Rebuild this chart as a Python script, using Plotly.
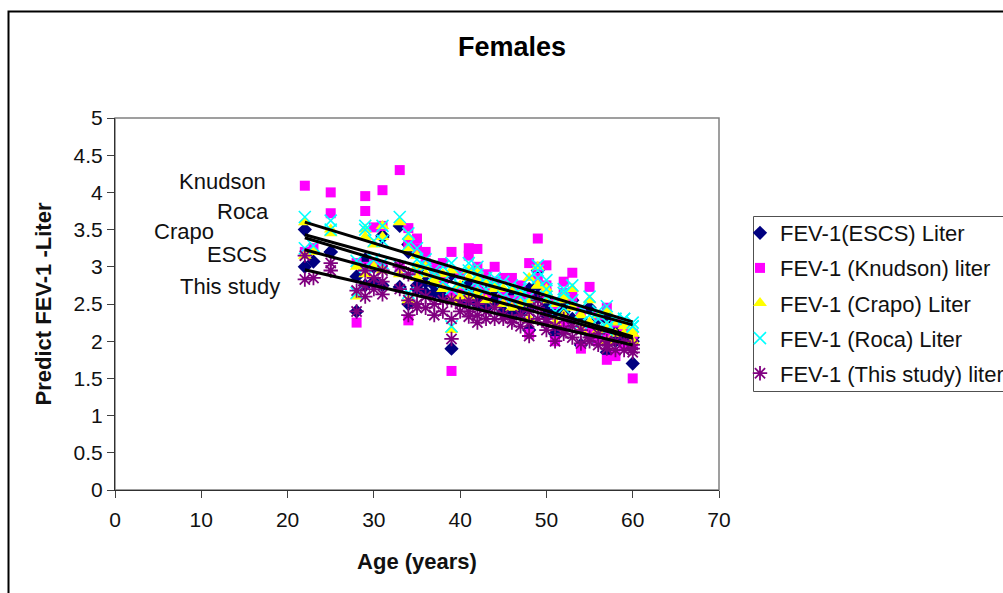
import plotly.graph_objects as go

age = [22,22,23,25,25,28,28,29,29,29,30,30,31,31,31,33,33,34,34,34,35,35,36,37,38,39,39,39,40,41,41,42,42,43,44,45,46,47,48,48,49,49,50,50,51,52,53,53,54,55,56,57,57,58,59,60,60,
       35,36,37,38,40,41,42,43,44,45,46,47,48,49,50,51,52,52,54,55,56,57,58,59,60]
escs = [3.5,3.0,3.07,3.2,3.2,2.87,2.4,3.1,3.05,2.75,3.0,2.8,3.42,3.4,2.75,3.55,2.73,3.3,3.2,2.5,2.95,2.75,2.8,2.65,2.6,2.9,1.9,2.6,2.7,2.8,2.75,2.6,2.5,2.65,2.55,2.6,2.6,2.4,2.7,2.15,2.95,2.6,2.45,2.35,2.1,2.4,2.55,2.3,1.95,2.45,2.0,2.3,1.85,2.0,2.0,1.7,2.05,
        2.7,2.65,2.75,2.8,2.55,2.55,2.7,2.45,2.7,2.4,2.35,2.55,2.45,2.75,2.6,2.4,2.2,2.55,2.3,2.1,2.3,2.05,2.2,2.15,2.0]
knudson = [4.09,3.2,3.25,4.0,3.72,3.05,2.25,3.95,3.75,3.0,3.53,3.05,4.03,3.55,3.0,4.3,3.0,3.52,3.3,2.28,3.38,3.25,3.2,2.9,2.8,3.2,1.6,2.65,2.9,3.25,3.15,3.24,2.75,2.9,3.0,2.85,2.85,2.55,3.05,2.1,3.38,3.0,3.02,2.65,2.0,2.8,2.92,2.6,1.9,2.73,2.0,2.45,1.75,1.8,1.95,1.5,2.1,
           2.95,3.05,3.0,3.05,2.7,2.6,3.0,2.65,2.8,2.6,2.55,2.75,2.6,2.85,2.75,2.5,2.2,2.65,2.4,2.15,2.35,2.1,2.25,2.2,1.95]
crapo = [3.6,3.15,3.2,3.5,3.45,3.0,2.6,3.5,3.4,2.9,3.3,3.0,3.55,3.4,2.95,3.6,2.9,3.4,3.25,2.55,3.15,3.0,3.0,2.8,2.7,2.95,2.15,2.55,2.75,2.95,2.85,2.95,2.65,2.8,2.75,2.7,2.7,2.5,2.85,2.3,3.0,2.75,2.7,2.55,2.25,2.6,2.7,2.45,2.15,2.55,2.15,2.4,2.0,2.1,2.1,2.0,2.15,
         2.85,2.9,2.85,2.9,2.6,2.6,2.85,2.55,2.7,2.5,2.45,2.65,2.55,2.75,2.65,2.5,2.35,2.55,2.35,2.25,2.35,2.2,2.25,2.2,2.1]
roca = [3.67,3.25,3.28,3.62,3.5,3.08,2.65,3.55,3.5,3.0,3.35,3.1,3.55,3.35,3.05,3.67,3.0,3.45,3.3,2.65,3.25,3.1,3.1,2.9,2.8,3.05,2.2,2.7,2.9,3.05,2.95,3.0,2.75,2.85,2.85,2.8,2.75,2.6,2.85,2.4,3.02,2.85,2.82,2.6,2.4,2.7,2.75,2.55,2.25,2.6,2.3,2.47,2.15,2.3,2.3,2.2,2.25,
        2.95,3.0,2.95,3.0,2.75,2.7,2.9,2.7,2.8,2.6,2.55,2.7,2.6,2.95,2.7,2.55,2.45,2.65,2.45,2.35,2.4,2.25,2.3,2.3,2.2]
this_study = [3.15,2.83,2.85,3.05,2.95,2.68,2.4,2.95,2.75,2.6,2.85,2.7,2.95,2.8,2.63,3.0,2.7,2.9,2.55,2.35,2.7,2.5,2.45,2.35,2.4,2.55,2.03,2.3,2.5,2.55,2.4,2.35,2.25,2.4,2.3,2.35,2.3,2.2,2.4,2.07,2.55,2.3,2.25,2.15,2.0,2.15,2.2,2.05,1.97,2.05,1.95,2.0,1.9,1.88,1.88,1.85,1.95,
              2.45,2.6,2.5,2.55,2.4,2.33,2.5,2.3,2.45,2.3,2.25,2.35,2.25,2.45,2.3,2.2,2.1,2.3,2.15,2.0,2.1,1.95,2.0,2.0,1.9]

trend_age = [22, 60]
trend_roca = [3.60, 2.26]
trend_knudson = [3.43, 2.22]
trend_crapo = [3.39, 2.06]
trend_escs = [3.23, 2.04]
trend_this = [2.96, 1.95]

label_names = ["Knudson", "Roca", "Crapo", "ESCS", "This study"]
label_x = [12.5, 14.8, 8.0, 14.1, 13.3]
label_y = [4.15, 3.75, 3.47, 3.17, 2.74]

FONT = "Liberation Sans"
series = [
    ("FEV-1(ESCS) Liter", escs, "diamond", "#000080", 11, None),
    ("FEV-1 (Knudson) liter", knudson, "square", "#ff00ff", 10, None),
    ("FEV-1 (Crapo) Liter", crapo, "triangle-up", "#ffff00", 12, None),
    ("FEV-1 (Roca) Liter", roca, "x-thin-open", "#00ffff", 12, 1.6),
    ("FEV-1 (This study) liter", this_study, "asterisk-open", "#800080", 12, 1.8),
]

fig = go.Figure()
for name, vals, sym, col, size, lw in series:
    marker = dict(symbol=sym, color=col, size=size)
    marker["line"] = dict(color=col, width=lw) if lw else dict(width=0)
    fig.add_trace(go.Scatter(x=age, y=vals, mode="markers", name=name,
                             legendgroup=name, marker=marker))
for t in [trend_roca, trend_knudson, trend_crapo, trend_escs, trend_this]:
    fig.add_trace(go.Scatter(x=trend_age, y=t, mode="lines", showlegend=False,
                             hoverinfo="skip", line=dict(color="black", width=3)))

for n, x, y in zip(label_names, label_x, label_y):
    fig.add_annotation(x=x, y=y, text=n, showarrow=False, xref="x", yref="y",
                       font=dict(family=FONT, size=22, color="#111111"))

L, T, R, B = 115, 118, 719, 490
W, H = 1003, 593
pw, ph = R - L, B - T
fig.add_shape(type="rect", xref="paper", yref="paper", x0=0, x1=1, y0=0, y1=1,
              line=dict(color="#808080", width=1.5), layer="below")
fig.add_shape(type="rect", xref="paper", yref="paper",
              x0=(8.5 - L) / pw, x1=(1040 - L) / pw,
              y0=(B - 640) / ph, y1=(B - 11.5) / ph,
              line=dict(color="black", width=2), layer="below")
# legend frame
fig.add_shape(type="rect", xref="paper", yref="paper",
              x0=(753.5 - L) / pw, x1=(1040 - L) / pw,
              y0=(B - 391.5) / ph, y1=(B - 216.5) / ph,
              line=dict(color="#505050", width=1), layer="below")

axis = dict(showgrid=False, zeroline=False, showline=True, linecolor="#303030", linewidth=1,
            ticks="outside", ticklen=7, tickcolor="#404040", tickwidth=1,
            tickfont=dict(family=FONT, size=21, color="#111111"))
fig.update_layout(
    width=W, height=H, margin=dict(l=L, r=W - R, t=T, b=H - B, autoexpand=False),
    paper_bgcolor="white", plot_bgcolor="white",
    title=dict(text="<b>Females</b>", x=512 / W, xref="container",
               xanchor="center", y=1 - 47 / H, yanchor="middle",
               font=dict(family=FONT, size=27, color="black")),
    xaxis=dict(axis, range=[0, 70], tickvals=list(range(0, 71, 10)), ticklabelstandoff=4,
               title=dict(text="<b>Age (years)</b>", standoff=23,
                          font=dict(family=FONT, size=22, color="#111111"))),
    yaxis=dict(axis, range=[0, 5], tickvals=[0, .5, 1, 1.5, 2, 2.5, 3, 3.5, 4, 4.5, 5],
               ticktext=["0", "0.5", "1", "1.5", "2", "2.5", "3", "3.5", "4", "4.5", "5"],
               title=dict(text="<b>Predict FEV-1 -Liter</b>", standoff=15,
                          font=dict(family=FONT, size=22, color="#111111"))),
    legend=dict(x=(740 - L) / pw, y=(B - 212) / ph, xanchor="left", yanchor="top",
                bgcolor="rgba(0,0,0,0)", borderwidth=0,
                font=dict(family=FONT, size=22, color="#111111"),
                traceorder="grouped", tracegroupgap=3.5, itemwidth=30,
                itemclick=False, itemdoubleclick=False),
    showlegend=True,
)
fig.write_html("out.html", config={"displayModeBar": False},
               post_script="document.body.style.margin='0';document.body.style.overflow='hidden';window.dispatchEvent(new Event('resize'));")
